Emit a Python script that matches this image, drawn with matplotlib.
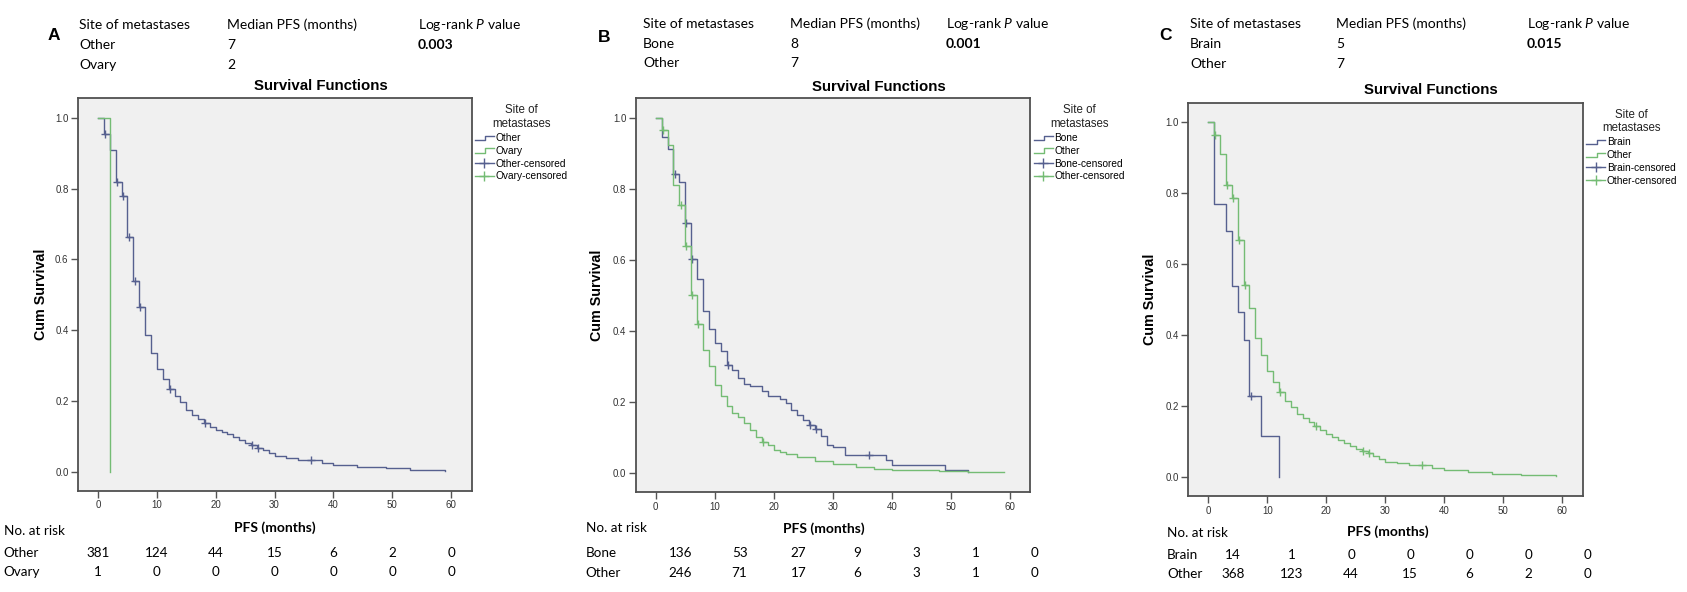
import matplotlib
matplotlib.use("Agg")
import matplotlib.pyplot as plt
import numpy as np
from matplotlib.lines import Line2D
from matplotlib.legend_handler import HandlerBase
from matplotlib import transforms

plt.rcParams['mathtext.fontset'] = 'custom'
plt.rcParams['mathtext.rm'] = 'Lato'
plt.rcParams['mathtext.it'] = 'Lato:italic'

# ---------------- data ----------------
x_ticks = [0, 10, 20, 30, 40, 50, 60]
y_ticks = [0.0, 0.2, 0.4, 0.6, 0.8, 1.0]

# Panel A: Other vs Ovary
a_other_t = [0, 1, 2, 3, 4, 5, 6, 7, 8, 9, 10, 11, 12, 13, 14, 15, 16, 17, 18, 19, 20,
             21, 22, 23, 24, 25, 26, 27, 28, 29, 30, 32, 34, 38, 40, 44, 49, 53, 59]
a_other_s = [1.0, 0.955, 0.908, 0.818, 0.778, 0.663, 0.539, 0.466, 0.386, 0.337, 0.292,
             0.262, 0.233, 0.214, 0.198, 0.175, 0.160, 0.150, 0.138, 0.127, 0.118,
             0.112, 0.106, 0.099, 0.090, 0.083, 0.076, 0.068, 0.062, 0.053, 0.045,
             0.039, 0.034, 0.026, 0.020, 0.015, 0.010, 0.006, 0.003]
a_other_cens = [1.2, 3.2, 4.2, 5.2, 6.2, 7.2, 12.2, 18.2, 26.2, 27.2, 36.2]
a_ovary_t = [0, 2]
a_ovary_s = [1.0, 0.0]
a_ovary_cens = []

# Panel B: Bone vs Other
b_bone_t = [0, 1, 2, 3, 4, 5, 6, 7, 8, 9, 10, 11, 12, 13, 14, 15, 16, 18, 19, 21, 22,
            23, 24, 25, 26, 27, 28, 29, 30, 32, 39, 40, 49, 53]
b_bone_s = [1.0, 0.945, 0.913, 0.842, 0.821, 0.705, 0.603, 0.548, 0.457, 0.405, 0.367,
            0.343, 0.306, 0.292, 0.268, 0.251, 0.245, 0.231, 0.218, 0.209, 0.197,
            0.178, 0.164, 0.150, 0.136, 0.126, 0.106, 0.079, 0.074, 0.053, 0.037,
            0.025, 0.011, 0.005]
b_bone_cens = [3.2, 5.2, 6.2, 12.2, 26.2, 27.2, 36.2]
b_other_t = [0, 1, 2, 3, 4, 5, 6, 7, 8, 9, 10, 11, 12, 13, 14, 15, 16, 17, 18, 19, 20,
             21, 22, 24, 27, 30, 34, 37, 40, 48, 53, 59]
b_other_s = [1.0, 0.966, 0.925, 0.811, 0.754, 0.641, 0.503, 0.419, 0.348, 0.301, 0.249,
             0.218, 0.190, 0.169, 0.160, 0.141, 0.122, 0.103, 0.089, 0.079, 0.065,
             0.059, 0.054, 0.046, 0.036, 0.027, 0.018, 0.013, 0.010, 0.008, 0.004, 0.003]
b_other_cens = [1.2, 4.2, 5.2, 6.2, 7.2, 18.2]

# Panel C: Brain vs Other
c_brain_t = [0, 1, 3, 4, 5, 6, 7, 9, 12]
c_brain_s = [1.0, 0.769, 0.694, 0.539, 0.464, 0.386, 0.230, 0.115, 0.0]
c_brain_cens = [7.2]
c_other_t = [0, 1, 2, 3, 4, 5, 6, 7, 8, 9, 10, 11, 12, 13, 14, 15, 16, 17, 18, 19, 20,
             21, 22, 23, 24, 25, 26, 27, 28, 29, 30, 32, 34, 38, 40, 44, 48, 53, 59]
c_other_s = [1.0, 0.963, 0.911, 0.822, 0.786, 0.669, 0.541, 0.476, 0.393, 0.344, 0.298,
             0.268, 0.240, 0.216, 0.198, 0.179, 0.168, 0.155, 0.144, 0.132, 0.122,
             0.113, 0.104, 0.096, 0.089, 0.080, 0.075, 0.068, 0.059, 0.052, 0.044,
             0.039, 0.035, 0.025, 0.020, 0.015, 0.010, 0.006, 0.003]
c_other_cens = [1.2, 3.2, 4.2, 5.2, 6.2, 12.2, 18.2, 26.2, 27.2, 36.2]

# numbers at risk
a_risk_other = [381, 124, 44, 15, 6, 2, 0]
a_risk_ovary = [1, 0, 0, 0, 0, 0, 0]
b_risk_bone = [136, 53, 27, 9, 3, 1, 0]
b_risk_other = [246, 71, 17, 6, 3, 1, 0]
c_risk_brain = [14, 1, 0, 0, 0, 0, 0]
c_risk_other = [368, 123, 44, 15, 6, 2, 0]

# header tables
a_groups, a_median, a_p = ["Other", "Ovary"], ["7", "2"], "0.003"
b_groups, b_median, b_p = ["Bone", "Other"], ["8", "7"], "0.001"
c_groups, c_median, c_p = ["Brain", "Other"], ["5", "7"], "0.015"

BLUE = '#56608f'
GREEN = '#74bc74'
HFONT = 'Lato'
SFONT = 'Liberation Sans'
HSIZE = 10

W, H = 1687, 592
fig = plt.figure(figsize=(W / 100, H / 100), dpi=100)


def fx(px):
    return px / W


def fy(py):
    return 1 - py / H


class StepHandler(HandlerBase):
    def create_artists(self, legend, orig_handle, xdescent, ydescent, width, height,
                       fontsize, trans):
        x0 = -xdescent
        x1 = x0 + width
        xm = x0 + width * 0.55
        ylo = -ydescent + height * 0.15
        yhi = -ydescent + height * 0.75
        ln = Line2D([x0, xm, xm, x1], [ylo, ylo, yhi, yhi],
                    color=orig_handle.get_color(), lw=1.0)
        ln.set_transform(trans)
        return [ln]


def surv_at(times, surv, t):
    idx = np.searchsorted(times, t, side='right') - 1
    return np.array(surv)[idx]


panels = [
    dict(letter='A', box=(78.3, 98.3, 393.4, 392.4), letter_xy=(53.6, 35),
         cols=(79.3, 226.8, 417.9), rows=(25, 45, 65), title_xy=(320.7, 86),
         xlabel_xy=(275, 528), ylabel_x=41, risk_x=3.6, risk_rows=(530.7, 553, 572),
         risk_shift=0.0, groups=a_groups, median=a_median, p=a_p,
         curves=[(a_other_t, a_other_s, a_other_cens, BLUE),
                 (a_ovary_t, a_ovary_s, a_ovary_cens, GREEN)],
         risk=[a_risk_other, a_risk_ovary]),
    dict(letter='B', box=(636, 98.3, 394.4, 394), letter_xy=(604.3, 37.7),
         cols=(642.9, 790, 946), rows=(24, 44, 63), title_xy=(879, 86.7),
         xlabel_xy=(824, 529), ylabel_x=597, risk_x=585.7, risk_rows=(528, 553, 573),
         risk_shift=4.2, groups=b_groups, median=b_median, p=b_p,
         curves=[(b_bone_t, b_bone_s, b_bone_cens, BLUE),
                 (b_other_t, b_other_s, b_other_cens, GREEN)],
         risk=[b_risk_bone, b_risk_other]),
    dict(letter='C', box=(1188.4, 102.7, 394.6, 393.3), letter_xy=(1165, 35),
         cols=(1190, 1336, 1527), rows=(24, 44, 64), title_xy=(1431, 90),
         xlabel_xy=(1388, 532), ylabel_x=1150, risk_x=1167, risk_rows=(533, 555, 574.5),
         risk_shift=4.2, groups=c_groups, median=c_median, p=c_p,
         curves=[(c_brain_t, c_brain_s, c_brain_cens, BLUE),
                 (c_other_t, c_other_s, c_other_cens, GREEN)],
         risk=[c_risk_brain, c_risk_other]),
]

for pn in panels:
    l, t, w, h = pn['box']
    ax = fig.add_axes([fx(l), fy(t + h), w / W, h / H])
    ax.set_facecolor('#f0f0f0')
    for times, surv, cens, col in pn['curves']:
        ax.step(times, surv, where='post', color=col, lw=1.0)
        if cens:
            ax.plot(cens, surv_at(times, surv, cens), ls='none', marker='+',
                    ms=6, mew=1.0, color=col)
    ax.set_xlim(-3.35, 63.5)
    ax.set_ylim(-0.053, 1.055)
    ax.set_xticks(x_ticks)
    ax.set_yticks(y_ticks)
    ax.set_yticklabels(['%.1f' % v for v in y_ticks])
    ax.tick_params(direction='out', length=5, width=1, color='#555555',
                   labelsize=7, labelcolor='#333333', pad=2)
    for lab in ax.get_xticklabels() + ax.get_yticklabels():
        lab.set_family(SFONT)
    for sp in ax.spines.values():
        sp.set_color('#505050')
        sp.set_linewidth(1.3)

    g1, g2 = pn['groups']
    handles = [Line2D([], [], color=BLUE), Line2D([], [], color=GREEN),
               Line2D([], [], color=BLUE, lw=1, marker='+', ms=7, mew=1),
               Line2D([], [], color=GREEN, lw=1, marker='+', ms=7, mew=1)]
    labels = [g1, g2, g1 + '-censored', g2 + '-censored']
    leg = ax.legend(handles, labels, loc='upper left', bbox_to_anchor=(1.008, 0.985),
                    frameon=False, title='Site of\nmetastases',
                    prop={'family': SFONT, 'size': 7.3},
                    title_fontproperties={'family': SFONT, 'size': 8.3},
                    handlelength=1.9, handletextpad=0.15, labelspacing=0.28,
                    borderpad=0, borderaxespad=0,
                    handler_map={handles[0]: StepHandler(), handles[1]: StepHandler()})
    leg.get_title().set_multialignment('center')
    leg.get_title().set_color('#222222')

    # header table
    fig.text(fx(pn['letter_xy'][0]), fy(pn['letter_xy'][1]), pn['letter'],
             family=SFONT, weight='bold', fontsize=12.5, ha='center', va='center')
    c1, c2, c3 = pn['cols']
    r1, r2, r3 = pn['rows']
    fig.text(fx(c1), fy(r1), 'Site of metastases', family=HFONT, fontsize=HSIZE, va='center')
    fig.text(fx(c2), fy(r1), 'Median PFS (months)', family=HFONT, fontsize=HSIZE, va='center')
    fig.text(fx(c3), fy(r1), r'Log-rank $P$ value', family=HFONT, fontsize=HSIZE, va='center')
    fig.text(fx(c1), fy(r2), g1, family=HFONT, fontsize=HSIZE, va='center')
    fig.text(fx(c1), fy(r3), g2, family=HFONT, fontsize=HSIZE, va='center')
    fig.text(fx(c2), fy(r2), pn['median'][0], family=HFONT, fontsize=HSIZE, va='center')
    fig.text(fx(c2), fy(r3), pn['median'][1], family=HFONT, fontsize=HSIZE, va='center')
    fig.text(fx(c3), fy(r2), pn['p'], family=HFONT, fontsize=HSIZE, weight='bold', va='center')

    fig.text(fx(pn['title_xy'][0]), fy(pn['title_xy'][1]), 'Survival Functions',
             family=SFONT, weight='bold', fontsize=10.8, ha='center', va='center')
    fig.text(fx(pn['xlabel_xy'][0]), fy(pn['xlabel_xy'][1]), 'PFS (months)',
             family=HFONT, weight='bold', fontsize=10, ha='center', va='center')
    fig.text(fx(pn['ylabel_x']), fy(t + h / 2), 'Cum Survival', family=SFONT,
             weight='bold', fontsize=10.3, rotation=90, ha='center', va='center')

    # numbers at risk
    rx = pn['risk_x']
    q0, q1, q2 = pn['risk_rows']
    fig.text(fx(rx), fy(q0), 'No. at risk', family=HFONT, fontsize=9.7, va='center')
    fig.text(fx(rx), fy(q1), g1, family=HFONT, fontsize=9.7, va='center')
    fig.text(fx(rx), fy(q2), g2, family=HFONT, fontsize=9.7, va='center')
    tr = transforms.blended_transform_factory(ax.transData, fig.transFigure)
    for xv, n1, n2 in zip(x_ticks, pn['risk'][0], pn['risk'][1]):
        ax.text(xv + pn['risk_shift'], fy(q1), str(n1), transform=tr, family=HFONT,
                fontsize=9.7, ha='center', va='center', clip_on=False)
        ax.text(xv + pn['risk_shift'], fy(q2), str(n2), transform=tr, family=HFONT,
                fontsize=9.7, ha='center', va='center', clip_on=False)

fig.savefig('out.png', dpi=100)
